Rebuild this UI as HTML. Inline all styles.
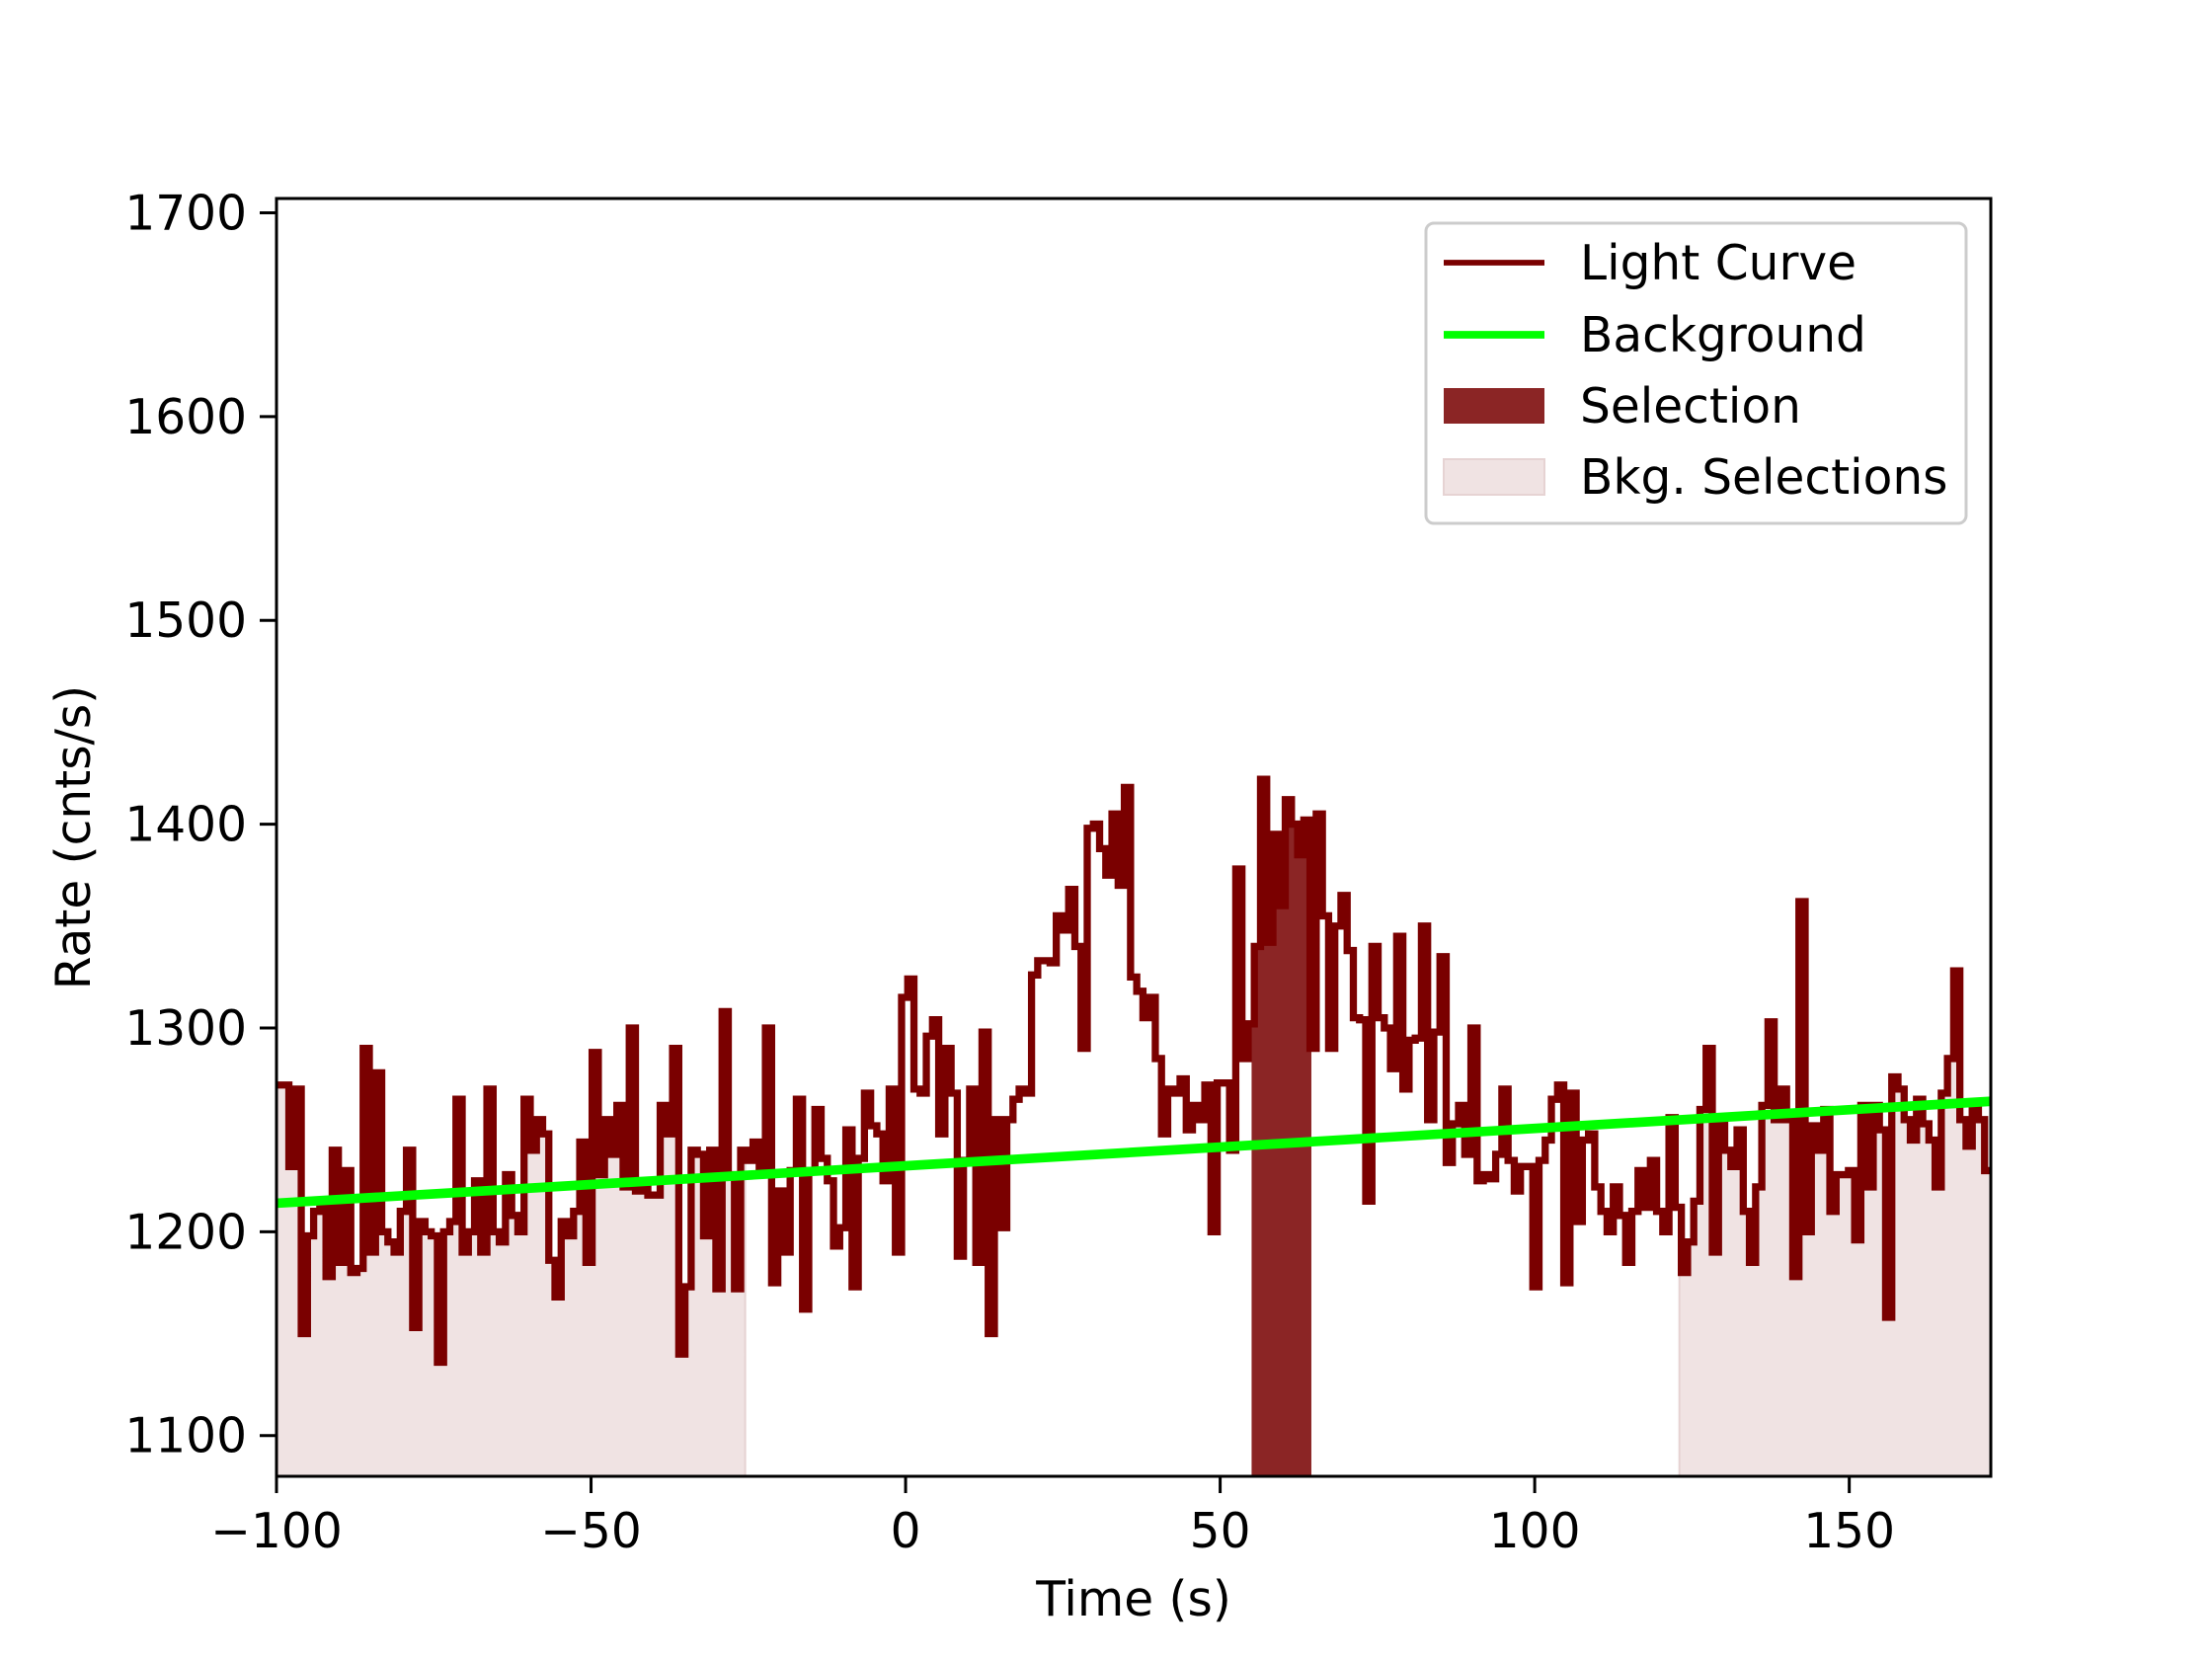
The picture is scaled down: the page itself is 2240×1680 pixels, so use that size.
<!DOCTYPE html>
<html><head><meta charset="utf-8"><style>
html,body{margin:0;padding:0;background:#fff;}
svg{display:block;font-family:"DejaVu Sans","Liberation Sans",sans-serif;}
</style></head><body>
<svg id="chart" width="2240" height="1680" viewBox="0 0 2240 1680" xmlns="http://www.w3.org/2000/svg">
<rect width="2240" height="1680" fill="#fff"/>
<g id="plot"></g>
<g id="axes"></g>
<g id="legend"></g>
</svg>
<script>
const xTicks = [-100, -50, 0, 50, 100, 150];
const yTicks = [1100, 1200, 1300, 1400, 1500, 1600, 1700];
const xDomain = [-100, 172.5];
const yDomain = [1080, 1707];
const binStart = -100;
const rates = [
1272,1272,1232,1270,1150,1198,1210,1212,1178,1240,1185,1230,1180,1182,1290,1190,1278,1200,1195,1190,1210,1240,1153,1205,1200,1198,1136,1200,1205,1265,1190,1200,1225,1190,1270,1200,1195,1228,1208,1200,1265,1240,1255,1248,1186,1168,1205,1198,1210,1244,1185,1288,1228,1255,1238,1262,1222,1300,1220,1221,1218,1218,1262,1248,1290,1140,1173,1240,1238,1198,1240,1172,1308,1228,
1172,1240,1235,1244,1230,1300,1175,1220,1190,1230,1265,1162,1230,1260,1236,1225,1193,1202,1250,1173,1236,1268,1252,1248,1225,1270,
1190,1315,1324,1270,1268,1296,1304,1248,1290,1268,1188,1235,1270,1185,1298,1150,1255,1202,1255,1265,1270,1268,1326,1333,
1333,1332,1355,1348,1368,1340,1290,1398,1400,1388,1375,1405,1370,1418,1325,1318,1305,1315,1285,1248,1270,1268,1275,1250,1262,1255,
1272,1200,1273,1273,1240,1378,1285,1302,
1340,1422,1342,1395,1360,1412,1400,1385,1402,1290,1405,1355,
1290,1350,1365,1338,1305,1304,1215,1340,1305,1300,1280,1345,1270,1294,1295,1350,1255,1298,1335,1234,1253,1262,1238,1300,1225,1228,
1226,1238,1270,1235,1220,1232,1232,1173,1235,1245,1265,1272,1175,1268,1205,1245,1248,1222,1210,1200,1222,1208,1185,1210,1230,1212,1235,1210,1200,1256,1212,
1180,1195,1215,1260,1290,1190,1255,1240,1232,1250,1210,1185,1222,1262,1303,1255,1270,1255,1178,1362,1200,1252,1240,1260,1210,1228,1228,1230,1196,1262,1222,1262,1250,1158,1276,1270,1255,1245,1265,1253,1245,1222,1268,1285,1328,1255,1242,1262,1255,1230
];
const bkgLine = [1214, 1264];
const selection = [55, 64.5];
const bkgSelections = [[-100, -25.5], [123, 172.5]];

const L=280,R=2016,T=201,B=1495;
const NS="http://www.w3.org/2000/svg";
const X=v=>L+(v-xDomain[0])/(xDomain[1]-xDomain[0])*(R-L);
const Y=v=>B-(v-yDomain[0])/(yDomain[1]-yDomain[0])*(B-T);
const binW=(xDomain[1]-binStart)/rates.length;
const FS=48.6;
function mk(tag,attrs,parent){const e=document.createElementNS(NS,tag);for(const k in attrs)e.setAttribute(k,attrs[k]);parent.appendChild(e);return e;}
const plot=document.getElementById('plot'), axes=document.getElementById('axes'), leg=document.getElementById('legend');

function stepArea(a,b){
  let d=`M${X(a)},${Y(yDomain[0])}`;
  for(let i=0;i<rates.length;i++){
    const s=Math.max(a,binStart+i*binW), e=Math.min(b,binStart+(i+1)*binW);
    if(e<=s) continue;
    d+=` L${X(s)},${Y(rates[i])} L${X(e)},${Y(rates[i])}`;
  }
  return d+` L${X(b)},${Y(yDomain[0])} Z`;
}
bkgSelections.forEach((r,i)=>{
  const p=mk('path',{d:stepArea(r[0],r[1]),fill:'#f0e3e3',stroke:'#e6d3d3','stroke-width':2},plot);
  
  
});
const sel=mk('path',{d:stepArea(selection[0],selection[1]),fill:'#8b2525'},plot);



let d='';
rates.forEach((v,i)=>{const s=binStart+i*binW,e=s+binW;d+=(i?` L${X(s)},${Y(v)}`:`M${X(s)},${Y(v)}`)+` L${X(e)},${Y(v)}`;});
const cp=mk('clipPath',{id:'clip'},plot);mk('rect',{x:L,y:T,width:R-L,height:B-T},cp);
const lc=mk('path',{d:d,fill:'none',stroke:'#7a0000','stroke-width':7.3,'stroke-linejoin':'miter','clip-path':'url(#clip)'},plot);


const bg=mk('line',{x1:X(xDomain[0]),y1:Y(bkgLine[0]),x2:X(xDomain[1]),y2:Y(bkgLine[1]),stroke:'#00ff00','stroke-width':9.7},plot);



const frame=mk('rect',{x:L,y:T,width:R-L,height:B-T,fill:'none',stroke:'#000','stroke-width':3},axes);


xTicks.forEach(t=>{
  const x=X(t);
  const tk=mk('line',{x1:x,y1:B,x2:x,y2:B+17,stroke:'#000','stroke-width':3},axes);
  
  
  const tx=mk('text',{x:x,y:1567,'text-anchor':'middle','font-size':FS},axes);
  tx.textContent=(t<0?'\u2212'+(-t):String(t));
  
  
});
yTicks.forEach(t=>{
  const y=Y(t);
  const tk=mk('line',{x1:L-17,y1:y,x2:L,y2:y,stroke:'#000','stroke-width':3},axes);
  
  
  const tx=mk('text',{x:L-30,y:y+17,'text-anchor':'end','font-size':FS},axes);
  tx.textContent=String(t);
  
  
});
const xt=mk('text',{x:(L+R)/2,y:1636,'text-anchor':'middle','font-size':FS},axes);
xt.textContent='Time (s)';


const yt=mk('text',{x:0,y:0,'text-anchor':'middle','font-size':FS,transform:`translate(91,${(T+B)/2}) rotate(-90)`},axes);
yt.textContent='Rate (cnts/s)';



const lb=mk('rect',{x:1444,y:226,width:547,height:304,rx:8,fill:'#fff','fill-opacity':0.8,stroke:'#cccccc','stroke-width':3},leg);


const entries=['Light Curve','Background','Selection','Bkg. Selections'];
const ey=[266,339,411,483];
entries.forEach((name,i)=>{
  const y=ey[i];
  let h;
  if(i===0) h=mk('line',{x1:1462,y1:y,x2:1564,y2:y,stroke:'#7a0000','stroke-width':5.8},leg);
  else if(i===1) h=mk('line',{x1:1462,y1:y,x2:1564,y2:y,stroke:'#00ff00','stroke-width':7.8},leg);
  else if(i===2) h=mk('rect',{x:1462,y:y-18,width:102,height:36,fill:'#8b2525'},leg);
  else h=mk('rect',{x:1462,y:y-18,width:102,height:36,fill:'#f0e3e3',stroke:'#e6d3d3','stroke-width':2},leg);
  
  
  const t=mk('text',{x:1600,y:y+17,'font-size':FS},leg);
  t.textContent=name;
  
  
});
</script>
</body></html>
